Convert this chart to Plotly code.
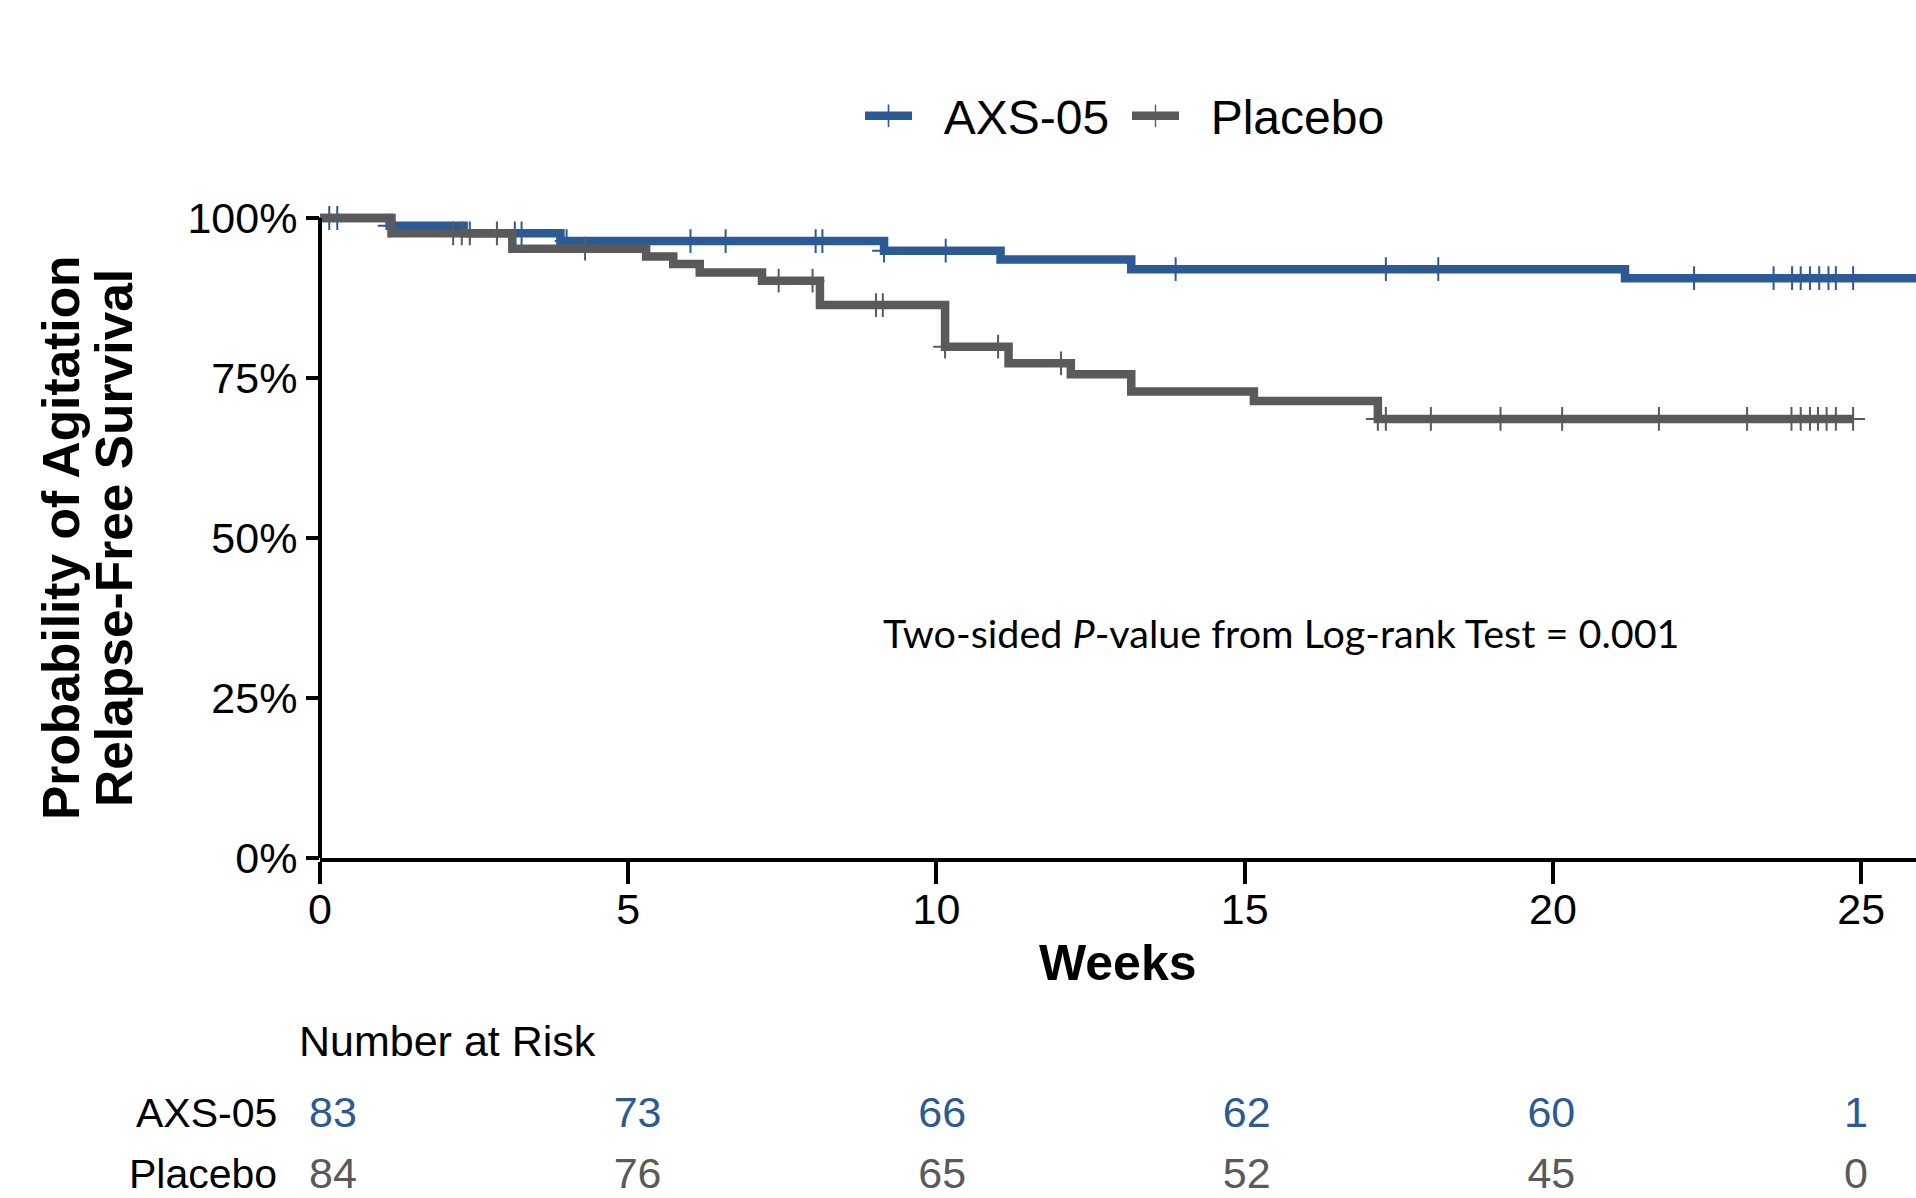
import plotly.graph_objects as go

FONT = "Liberation Sans, Arial, sans-serif"
BLUE = "#2C5A94"
GRAY = "#5A5A5A"

# ---- Kaplan-Meier curves (weeks, survival probability, censored flag) ----
axs_t = [0, 0.15, 0.28, 1.13, 2.33, 2.43, 3.16, 3.27, 3.90, 4.00, 6.01, 6.58,
         8.04, 8.15, 9.15, 10.15, 11.04, 13.16, 13.88, 17.29, 18.14, 21.17,
         22.29, 23.58, 23.88, 24.02, 24.17, 24.32, 24.47, 24.59, 24.87, 26.3]
axs_s = [1.0, 1.0, 1.0, 0.988, 0.976, 0.976, 0.976, 0.976, 0.964, 0.964, 0.964, 0.964,
         0.964, 0.964, 0.949, 0.949, 0.935, 0.920, 0.920, 0.920, 0.920, 0.906,
         0.906, 0.906, 0.906, 0.906, 0.906, 0.906, 0.906, 0.906, 0.906, 0.906]
axs_c = [0, 1, 1, 1, 0, 1, 1, 1, 0, 1, 1, 1,
         1, 1, 1, 1, 0, 0, 1, 1, 1, 0,
         1, 1, 1, 1, 1, 1, 1, 1, 1, 1]

pbo_t = [0, 1.16, 2.16, 2.30, 2.87, 3.12, 4.30, 5.29, 5.73, 6.16, 7.17, 7.44, 7.99,
         8.11, 9.02, 9.13, 10.14, 11.00, 11.17, 12.02, 12.18, 13.16, 15.15, 17.16,
         17.29, 18.02, 19.15, 20.15, 21.72, 23.15, 23.87, 24.02, 24.17, 24.30, 24.44,
         24.59, 24.87]
pbo_s = [1.0, 0.976, 0.976, 0.976, 0.976, 0.952, 0.952, 0.940, 0.928, 0.915, 0.902, 0.902, 0.902,
         0.864, 0.864, 0.864, 0.799, 0.799, 0.773, 0.773, 0.756, 0.729, 0.714, 0.686,
         0.686, 0.686, 0.686, 0.686, 0.686, 0.686, 0.686, 0.686, 0.686, 0.686, 0.686,
         0.686, 0.686]
pbo_c = [0, 0, 1, 1, 1, 0, 1, 0, 0, 0, 0, 1, 1,
         0, 1, 1, 1, 1, 0, 1, 0, 0, 0, 1,
         1, 1, 1, 1, 1, 1, 1, 1, 1, 1, 1,
         1, 1]

# ---- Number at risk table ----
risk_weeks = [0, 5, 10, 15, 20, 25]
axs_risk = [83, 73, 66, 62, 60, 1]
pbo_risk = [84, 76, 65, 52, 45, 0]

x_ticks = [0, 5, 10, 15, 20, 25]
y_ticks = [0, 0.25, 0.5, 0.75, 1.0]
y_ticktext = ["0%", "25%", "50%", "75%", "100%"]

W, H = 1916, 1198
L = 320
PW = W - L


def py(y):
    """pixel row -> paper fraction"""
    return 1 - y / H


def px(x):
    """pixel column -> paper fraction"""
    return (x - L) / PW


fig = go.Figure()

for name, t, s, c, col in [("AXS-05", axs_t, axs_s, axs_c, BLUE),
                           ("Placebo", pbo_t, pbo_s, pbo_c, GRAY)]:
    fig.add_trace(go.Scatter(
        x=t, y=s, mode="lines+markers", name="\u00a0\u00a0" + name,
        line=dict(color=col, width=8.5, shape="hv"),
        marker=dict(symbol="cross-thin", size=17, color=col,
                    line=dict(color=col, width=[2 if ci else 0 for ci in c])),
        cliponaxis=False, hoverinfo="skip"))

for vals, col, row in [(axs_risk, BLUE, 1), (pbo_risk, GRAY, 0)]:
    fig.add_trace(go.Scatter(
        x=risk_weeks, y=[row] * len(risk_weeks), mode="text",
        text=[str(v) for v in vals], textfont=dict(color=col, size=43, family=FONT),
        xaxis="x2", yaxis="y2", showlegend=False, hoverinfo="skip", cliponaxis=False))

fig.update_layout(
    width=W, height=H, autosize=False,
    margin=dict(l=L, r=0, t=0, b=0, pad=0, autoexpand=False),
    paper_bgcolor="white", plot_bgcolor="white",
    font=dict(family=FONT, color="black", size=43),
    xaxis=dict(domain=[0, 1], range=[0, 25.89], tickvals=x_ticks, ticks="outside",
               ticklen=22, tickwidth=4, tickcolor="black", showline=True, linewidth=4,
               linecolor="black", showgrid=False, zeroline=False, automargin=False,
               ticklabelstandoff=-12,
               tickfont=dict(size=43, color="black"), anchor="y"),
    yaxis=dict(domain=[py(858), py(150)], range=[0, 1.10625],
               tickvals=y_ticks, ticktext=y_ticktext, ticks="outside", ticklen=13,
               tickwidth=4, tickcolor="black", showline=False, showgrid=False,
               zeroline=False, automargin=False,
               tickfont=dict(size=43, color="black"), anchor="x"),
    xaxis2=dict(domain=[0, 1], range=[-0.213, 25.985], visible=False, anchor="y2",
                automargin=False),
    yaxis2=dict(domain=[0, py(1050)], range=[-0.3443, 2.0823], visible=False, anchor="x2",
                automargin=False),
    legend=dict(orientation="h", x=px(860), xanchor="left", y=py(116),
                yanchor="middle", font=dict(size=48, color="black"),
                itemwidth=47, entrywidth=205, bgcolor="rgba(0,0,0,0)"),
    showlegend=True,
)

fig.add_shape(type="line", xref="paper", x0=0, x1=0, yref="y", y0=0, y1=1,
              line=dict(color="black", width=4), layer="above")

ann = [
    dict(x=15.59, y=0.353, xref="x", yref="y",
         text="Two-sided <i>P</i>-value from Log-rank Test = 0.001",
         font=dict(family="Lato, Open Sans, sans-serif", size=39.5, color="black")),
    dict(x=0.5, y=py(963), xref="paper", yref="paper", text="<b>Weeks</b>",
         font=dict(size=50, color="black")),
    dict(x=px(61), y=py(538), xref="paper", yref="paper",
         text="<b>Probability of Agitation</b>", textangle=-90,
         font=dict(size=51.5, color="black")),
    dict(x=px(114), y=py(538), xref="paper", yref="paper",
         text="<b>Relapse-Free Survival</b>", textangle=-90,
         font=dict(size=51.5, color="black")),
    dict(x=px(297), y=py(1041), xref="paper", yref="paper",
         text="Number at Risk", xanchor="left", font=dict(size=43, color="black")),
    dict(x=px(279), y=1, xref="paper", yref="y2", text="AXS-05", yshift=3,
         xanchor="right", font=dict(size=41, color="black")),
    dict(x=px(279), y=0, xref="paper", yref="y2", text="Placebo", yshift=3,
         xanchor="right", font=dict(size=41, color="black")),
]
for a in ann:
    a.setdefault("xanchor", "center")
    a["yanchor"] = "middle"
    a["showarrow"] = False
    fig.add_annotation(**a)

fig.write_html("out.html")
